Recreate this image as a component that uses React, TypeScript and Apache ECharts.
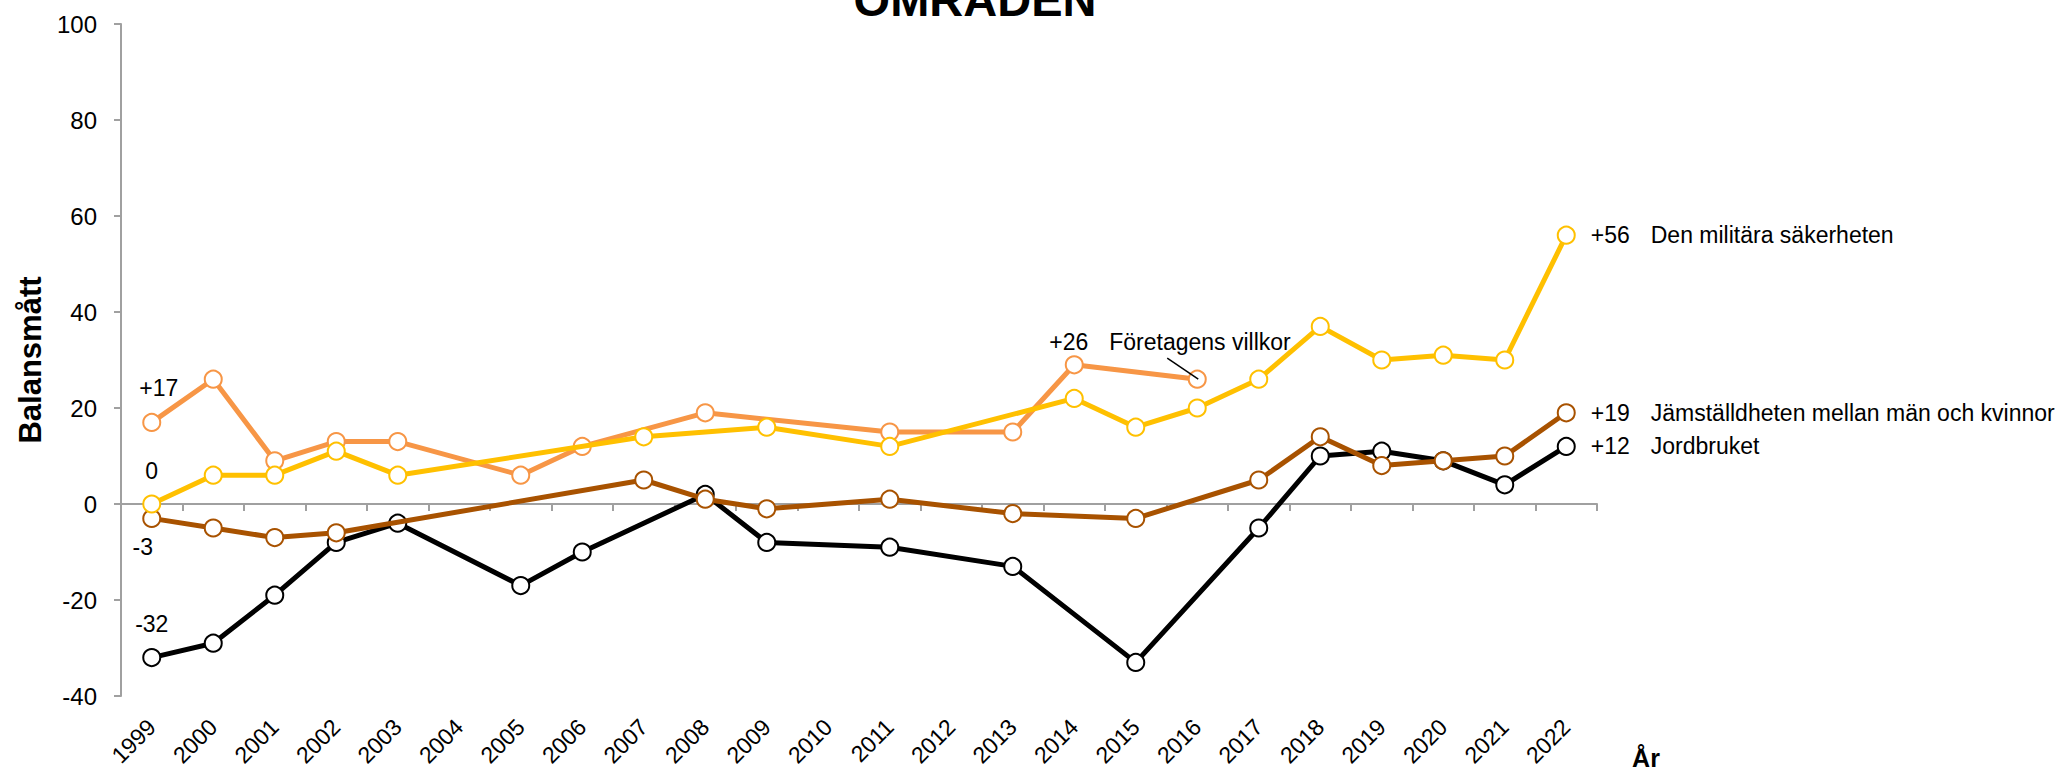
import React, { useEffect, useRef } from 'react';
import * as echarts from 'echarts';

const years = ['1999', '2000', '2001', '2002', '2003', '2004', '2005', '2006', '2007', '2008', '2009', '2010', '2011', '2012', '2013', '2014', '2015', '2016', '2017', '2018', '2019', '2020', '2021', '2022'];

const jordbruket = [-32, -29, -19, -8, -4, null, -17, -10, null, 2, -8, null, -9, null, -13, null, -33, null, -5, 10, 11, 9, 4, 12];
const jamstalldhet = [-3, -5, -7, -6, null, null, null, null, 5, 1, -1, null, 1, null, -2, null, -3, null, 5, 14, 8, 9, 10, 19];
const foretagensVillkor = [17, 26, 9, 13, 13, null, 6, 12, null, 19, null, null, 15, null, 15, 29, null, 26, null, null, null, null, null, null];
const militaraSakerheten = [0, 6, 6, 11, 6, null, null, null, 14, null, 16, null, 12, null, null, 22, 16, 20, 26, 37, 30, 31, 30, 56];

const seriesNames = ['Jordbruket', 'Jämställdheten mellan män och kvinnor', 'Företagens villkor', 'Den militära säkerheten'];
const seriesColors = ['#000000', '#A85200', '#F79646', '#FFC000'];

const yMin = -40;
const yMax = 100;
const yInterval = 20;
const yAxisTitle = 'Balansmått';
const xAxisTitle = 'År';
const chartTitle = 'OMRÅDEN';

const FONT = '"Liberation Sans", Arial, Helvetica, sans-serif';

function signed(v: number): string {
  return v > 0 ? `+${v}` : `${v}`;
}

function lastIndex(arr: (number | null)[]): number {
  for (let i = arr.length - 1; i >= 0; i--) if (arr[i] != null) return i;
  return -1;
}

// start-label offsets (relative to the marker centre)
const startLabelOffsets: [number, number][] = [
  [0, -34],
  [-9, 29],
  [7, -34],
  [0, -33],
];

const richEnd = {
  a: { width: 60, fontSize: 23, color: '#000', fontFamily: FONT },
  b: { fontSize: 23, color: '#000', fontFamily: FONT },
};

function buildData(values: (number | null)[], sIdx: number) {
  const last = lastIndex(values);
  return values.map((v, i) => {
    if (v == null) return null;
    if (i === 0) {
      return {
        value: v,
        label: {
          show: true,
          position: ['50%', '50%'],
          align: 'center',
          verticalAlign: 'middle',
          offset: startLabelOffsets[sIdx],
          formatter: signed(v),
          fontSize: 23,
          color: '#000',
          fontFamily: FONT,
        },
      };
    }
    if (i === last) {
      const text = `{a|${signed(v)}}{b|${seriesNames[sIdx]}}`;
      if (sIdx === 2) {
        return {
          value: v,
          label: {
            show: true,
            position: ['50%', '50%'],
            align: 'left',
            verticalAlign: 'middle',
            offset: [-148, -37.5],
            formatter: text,
            rich: richEnd,
          },
        };
      }
      return {
        value: v,
        label: {
          show: true,
          position: 'right',
          distance: 15,
          formatter: text,
          rich: richEnd,
        },
      };
    }
    return { value: v };
  });
}

const allSeries = [jordbruket, jamstalldhet, foretagensVillkor, militaraSakerheten];

export default function App() {
  const ref = useRef<HTMLDivElement>(null);

  useEffect(() => {
    if (!ref.current) return;
    const chart = echarts.init(ref.current, null, { renderer: 'svg' });
    const axisGray = '#A0A0A0';

    chart.setOption({
      animation: false,
      backgroundColor: '#ffffff',
      textStyle: { fontFamily: FONT },
      grid: { left: 121, right: 474, top: 24, bottom: 75, containLabel: false },
      xAxis: [
        {
          type: 'category',
          data: years,
          boundaryGap: true,
          axisLine: { show: false, onZero: false },
          axisTick: { show: false },
          axisLabel: {
            interval: 0,
            rotate: 45,
            margin: 27,
            fontSize: 23,
            color: '#000',
            fontFamily: FONT,
          },
          splitLine: { show: false },
        },
        {
          type: 'category',
          data: years,
          boundaryGap: true,
          position: 'bottom',
          axisLine: { show: true, onZero: true, lineStyle: { color: axisGray, width: 2 } },
          axisTick: { show: true, interval: 0, length: 7, lineStyle: { color: axisGray, width: 2 } },
          axisLabel: { show: false },
          splitLine: { show: false },
        },
      ],
      yAxis: {
        type: 'value',
        min: yMin,
        max: yMax,
        interval: yInterval,
        axisLine: { show: true, lineStyle: { color: axisGray, width: 2 } },
        axisTick: { show: true, length: 7, lineStyle: { color: axisGray, width: 2 } },
        axisLabel: { fontSize: 24, color: '#000', margin: 24, fontFamily: FONT },
        splitLine: { show: false },
        name: yAxisTitle,
        nameLocation: 'middle',
        nameGap: 66,
        nameTextStyle: { fontSize: 31, fontWeight: 'bold', color: '#000', fontFamily: FONT },
      },
      series: allSeries.map((vals, idx) => ({
        type: 'line',
        name: seriesNames[idx],
        data: buildData(vals, idx),
        connectNulls: true,
        symbol: 'circle',
        symbolSize: 17,
        showAllSymbol: true,
        lineStyle: { color: seriesColors[idx], width: 5 },
        itemStyle: { color: '#ffffff', borderColor: seriesColors[idx], borderWidth: 2 },
        label: { show: false },
        emphasis: { disabled: true },
        z: 2 + idx,
      })),
      graphic: [
        {
          type: 'text',
          id: 'title',
          x: 975,
          y: -1,
          style: {
            text: chartTitle,
            font: `bold 47px ${FONT}`,
            fill: '#000',
            textAlign: 'center',
            textVerticalAlign: 'middle',
          },
        },
        {
          type: 'text',
          id: 'xname',
          x: 1646,
          y: 758,
          style: {
            text: xAxisTitle,
            font: `bold 25px ${FONT}`,
            fill: '#000',
            textAlign: 'center',
            textVerticalAlign: 'middle',
          },
        },
      ],
    });

    // leader line for "Företagens villkor" label, anchored on its last point
    const fIdx = lastIndex(foretagensVillkor);
    const p = chart.convertToPixel({ seriesIndex: 2 }, [fIdx, foretagensVillkor[fIdx] as number]) as number[];
    if (p && isFinite(p[0])) {
      chart.setOption({
        graphic: [
          {
            type: 'line',
            id: 'leader',
            z: 100,
            shape: { x1: p[0] - 30, y1: p[1] - 21, x2: p[0] + 1, y2: p[1] },
            style: { stroke: '#000', lineWidth: 1.5 },
          },
        ],
      });
    }

    return () => chart.dispose();
  }, []);

  return (
    <div
      ref={ref}
      style={{ position: 'absolute', left: 0, top: 0, width: 2071, height: 771 }}
    />
  );
}
